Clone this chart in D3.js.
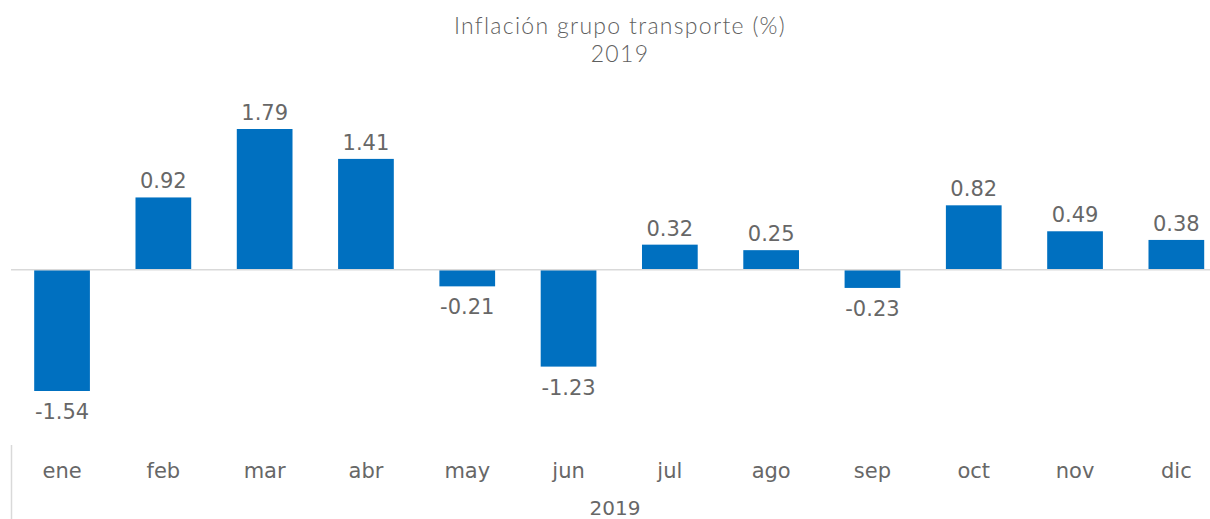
<!DOCTYPE html>
<html>
<head>
<meta charset="utf-8">
<script src="https://cdn.jsdelivr.net/npm/d3@7"></script>
<style>
  body { margin: 0; background: #fff; }
  text { font-family: "DejaVu Sans", sans-serif; }
</style>
</head>
<body>
<svg width="1210" height="519"></svg>
<script>
var months = ["ene","feb","mar","abr","may","jun","jul","ago","sep","oct","nov","dic"];
var values = [-1.54, 0.92, 1.79, 1.41, -0.21, -1.23, 0.32, 0.25, -0.23, 0.82, 0.49, 0.38];
var titleLines = ["Inflación grupo transporte (%)", "2019"];
var yearLabel = "2019";

var svg = d3.select("svg"),
	width = +svg.attr("width"),
	height = +svg.attr("height"),
	blue = "#0070c0",
	grey = "#676767";

var data = months.map(function(m, i) { return {m: m, v: values[i]} });

var x = d3.scaleBand().domain(months).range([11.4, 1227]).paddingInner(0.45).paddingOuter(0.225);
var y = d3.scaleLinear().domain([-1.54, 1.79]).range([391, 129]);

// title
svg.append("g").selectAll("text").data(titleLines).enter().append("text")
	.attr("x", 620).attr("y", function(d, i) { return 34 + i * 28 })
	.attr("text-anchor", "middle").attr("fill", "#5f5f5f")
	.style("font-family", "Lato, sans-serif")
	.style("font-size", "23px").style("font-weight", 300)
	.style("letter-spacing", "1.3px")
	.text(function(d) { return d });

// bars
svg.append("g").selectAll("rect").data(data).enter().append("rect")
	.attr("x", function(d) { return x(d.m) })
	.attr("width", x.bandwidth())
	.attr("y", function(d) { return y(Math.max(0, d.v)) })
	.attr("height", function(d) { return Math.abs(y(d.v) - y(0)) })
	.attr("fill", blue);

// zero line
svg.append("line")
	.attr("x1", 11).attr("x2", width)
	.attr("y1", y(0)).attr("y2", y(0))
	.attr("stroke", "#d9d9d9").attr("stroke-width", 1.5);

// value labels
svg.append("g").selectAll("text").data(data).enter().append("text")
	.attr("x", function(d) { return x(d.m) + x.bandwidth() / 2 })
	.attr("y", function(d) { return d.v >= 0 ? y(d.v) - 9 : y(d.v) + 28 })
	.attr("text-anchor", "middle").attr("fill", grey)
	.style("font-size", "21px")
	.text(function(d) { return d.v.toFixed(2) });

// category axis
var xAxis = svg.append("g").attr("transform", "translate(0,470)")
	.call(d3.axisBottom(x).tickSize(0).tickPadding(0));
xAxis.select(".domain").remove();
xAxis.selectAll("text")
	.attr("fill", grey).attr("dy", "8px")
	.style("font-size", "21px")
	.style("font-family", "\"DejaVu Sans\", sans-serif");

svg.append("line")
	.attr("x1", 11.5).attr("x2", 11.5).attr("y1", 445).attr("y2", height)
	.attr("stroke", "#d9d9d9").attr("stroke-width", 1.5);

svg.append("text")
	.attr("x", 615).attr("y", 515)
	.attr("text-anchor", "middle").attr("fill", grey)
	.style("font-size", "20px")
	.text(yearLabel);
</script>
</body>
</html>
